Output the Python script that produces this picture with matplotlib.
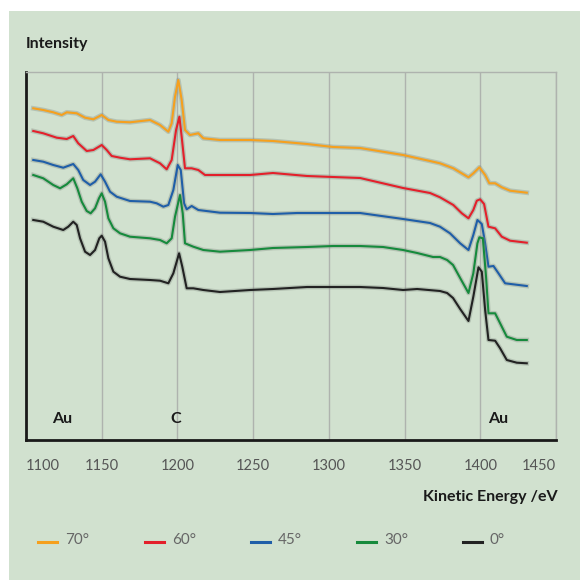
import matplotlib
matplotlib.use("Agg")
import matplotlib.pyplot as plt
from matplotlib.patches import Rectangle
from matplotlib.lines import Line2D
import matplotlib.patheffects as pe

plt.rcParams['font.family'] = ['Lato', 'DejaVu Sans']

# ---- data ----
labels = ["70°", "60°", "45°", "30°", "0°"]
colors = ["#F5A01E", "#E3202B", "#1F5EA8", "#168A3C", "#222222"]

e70 = [1104.8, 1111.4, 1118.0, 1123.6, 1126.9, 1133.5, 1139.0, 1144.5, 1150.0, 1154.4, 1159.9, 1168.7, 1181.9, 1188.5, 1194.0, 1196.2, 1198.4, 1200.6, 1202.8, 1205.0, 1208.3, 1213.8, 1217.1, 1228.1, 1248.0, 1263.1, 1285.6, 1302.8, 1320.6, 1349.0, 1366.8, 1373.4, 1382.2, 1392.2, 1395.4, 1399.4, 1403.2, 1406.0, 1409.8, 1414.2, 1419.7, 1430.7]
i70 = [331.7, 330, 327.7, 325, 327.7, 326.7, 322.3, 320.7, 325, 320, 318.3, 317.7, 320, 315, 308.3, 316.7, 343.3, 360, 340, 310, 305, 306.7, 301.7, 300, 300, 299, 296, 293, 292, 285, 279, 276.7, 271.7, 262.7, 266.7, 272.7, 265, 256.7, 256.7, 252.7, 249.3, 247.3]

e60 = [1104.8, 1111.4, 1120.3, 1126.9, 1131.2, 1134.5, 1140.1, 1144.5, 1150.0, 1153.3, 1156.6, 1162.1, 1168.7, 1181.9, 1188.5, 1192.9, 1196.2, 1199.1, 1201.3, 1202.8, 1205.0, 1209.4, 1213.8, 1218.2, 1228.1, 1248.0, 1263.1, 1285.6, 1302.8, 1320.6, 1349.0, 1366.8, 1373.4, 1382.2, 1387.8, 1392.2, 1395.4, 1397.7, 1399.9, 1402.5, 1405.4, 1409.8, 1414.2, 1419.7, 1430.7]
i60 = [309, 306.7, 302.3, 301, 304, 296.7, 289, 290, 295, 290, 284, 282.3, 280.7, 281.7, 276.7, 270.7, 280, 310, 323.3, 303.3, 271.7, 271.7, 270, 265, 265, 265, 267, 264, 263, 262, 252, 247, 242.7, 235, 226.7, 221.7, 230, 239.3, 240.7, 236, 213.3, 211.7, 203.3, 199.3, 197.3]

e45 = [1104.8, 1111.4, 1118.0, 1124.6, 1131.2, 1134.5, 1137.8, 1142.3, 1145.6, 1149.3, 1152.2, 1155.5, 1159.9, 1168.7, 1181.9, 1186.3, 1190.7, 1194.0, 1197.3, 1200.2, 1202.2, 1204.4, 1206.1, 1209.4, 1213.8, 1228.1, 1248.0, 1263.1, 1279.0, 1302.8, 1320.6, 1349.0, 1366.8, 1373.4, 1380.0, 1386.7, 1392.2, 1395.4, 1398.1, 1401.0, 1403.2, 1405.4, 1408.7, 1412.0, 1416.4, 1430.7]
i45 = [280, 278.3, 275, 272.3, 276, 270, 260, 255, 258.3, 265.7, 258.3, 248.3, 243.3, 239, 238.3, 236.7, 233.3, 235, 250, 275, 270, 236.7, 230.7, 234, 230, 227.3, 227, 226, 227, 227, 227, 221, 217, 213.3, 206.7, 196.7, 190, 205, 220, 216, 196.7, 173.3, 174, 166.7, 156.7, 154]

e30 = [1104.8, 1111.4, 1118.0, 1122.5, 1126.9, 1131.2, 1133.9, 1136.8, 1140.1, 1142.7, 1145.6, 1148.2, 1150.0, 1152.2, 1154.4, 1157.7, 1162.1, 1168.7, 1181.9, 1188.5, 1192.9, 1196.2, 1198.4, 1201.7, 1203.5, 1205.0, 1210.5, 1217.1, 1228.1, 1248.0, 1263.1, 1285.6, 1302.8, 1320.6, 1335.8, 1349.0, 1358.3, 1368.8, 1373.4, 1378.1, 1382.0, 1386.7, 1392.2, 1395.4, 1398.1, 1399.4, 1401.7, 1403.8, 1405.4, 1409.8, 1413.1, 1417.5, 1424.1, 1430.7]
i30 = [265, 261.7, 255, 251.7, 255.7, 261.7, 251.7, 238.3, 229, 226.7, 231.7, 241.7, 246.7, 238.3, 221.7, 211.7, 206.7, 203.3, 201.7, 200, 196.7, 201.7, 223.3, 245, 226.7, 196.7, 193.3, 190, 188.3, 190, 192, 193, 194, 194, 193, 190, 187, 183, 183, 180, 175, 162, 147, 166.7, 196.7, 202.7, 201.7, 163.3, 126.7, 126.7, 116.7, 103.3, 100, 100]

e0 = [1104.8, 1111.4, 1118.0, 1124.6, 1127.9, 1131.2, 1133.5, 1135.7, 1139.0, 1142.3, 1145.6, 1148.4, 1150.0, 1152.2, 1154.4, 1157.7, 1162.1, 1168.7, 1181.9, 1188.5, 1194.0, 1197.3, 1201.1, 1203.2, 1206.1, 1210.5, 1217.1, 1228.1, 1248.0, 1263.1, 1285.6, 1302.8, 1320.6, 1335.8, 1349.0, 1358.3, 1373.4, 1378.1, 1382.0, 1386.7, 1392.2, 1395.4, 1398.8, 1401.0, 1403.2, 1405.4, 1409.8, 1413.1, 1417.5, 1424.1, 1430.7]
i0 = [220, 218.3, 213.3, 210, 213.3, 218.3, 215, 201.7, 188.3, 185, 190, 201.7, 204.3, 198.3, 181.7, 168.3, 163.3, 161, 160, 159.3, 156.7, 166.7, 186.7, 173.3, 151.7, 151.7, 150, 148, 150, 151, 153, 153, 153, 152, 150, 151, 149, 147, 142, 131, 119, 143.3, 172.7, 168.3, 130, 100, 99.3, 91.7, 80, 77.3, 76.7]

series = [(e70, i70), (e60, i60), (e45, i45), (e30, i30), (e0, i0)]

xticks = [1100, 1150, 1200, 1250, 1300, 1350, 1400, 1450]
peak_labels = ["Au", "C", "Au"]
peak_pos = [1124, 1199, 1412]

# ---- figure ----
W = H = 580
fig = plt.figure(figsize=(5.8, 5.8), dpi=100)
fig.patch.set_facecolor("white")
bg = "#D1E1CF"
fig.add_artist(Rectangle((9 / W, 0), 1 - 9 / W, 1 - 11 / H, transform=fig.transFigure,
                         facecolor=bg, edgecolor="none", zorder=0))

ax = fig.add_axes([26 / W, (H - 440) / H, (556 - 26) / W, (440 - 72) / H])
ax.set_facecolor(bg)
ax.set_xlim(1100, 1450)
ax.set_ylim(0, 368)
ax.set_yticks([])
ax.set_xticks(xticks)
ax.set_xticklabels([str(t) for t in xticks], fontsize=10.5, color="#555555")
for i, lab in enumerate(ax.get_xticklabels()):
    if i == 0:
        lab.set_ha("left")
    elif i == len(xticks) - 1:
        lab.set_ha("right")
ax.tick_params(axis="x", length=0, pad=14)
ax.grid(axis="x", color="#AEB3AE", linewidth=1.0, zorder=1)
for s in ["left", "bottom"]:
    ax.spines[s].set_color("#1A1A1A")
    ax.spines[s].set_linewidth(2.0)
for s in ["top", "right"]:
    ax.spines[s].set_color("#AEB3AE")
    ax.spines[s].set_linewidth(1.0)

for (e, i), c in zip(series, colors):
    ax.plot(e, i, color=c, linewidth=1.5, zorder=3, solid_joinstyle="round",
            path_effects=[pe.Stroke(linewidth=3.4, foreground="#7f8a7f", alpha=0.35), pe.Normal()])

for lab, p in zip(peak_labels, peak_pos):
    ax.text(p, 21, lab, ha="center", va="center", fontsize=11.5, fontweight="bold", color="#1A1A1A")

fig.text(26 / W, 1 - 44 / H, "Intensity", ha="left", va="center", fontsize=11.5,
         fontweight="bold", color="#1A1A1A")
fig.text(558 / W, 1 - 497 / H, "Kinetic Energy /eV", ha="right", va="center", fontsize=11.5,
         fontweight="bold", color="#1A1A1A")

# legend
leg_x = [38, 145, 251, 357, 463]
ly = 1 - 542 / H
for x0, c, lab in zip(leg_x, colors, labels):
    fig.add_artist(Line2D([x0 / W, (x0 + 19) / W], [ly, ly], transform=fig.transFigure,
                          color=c, linewidth=2.2))
    fig.text((x0 + 27) / W, ly + 2 / H, lab, ha="left", va="center", fontsize=11,
             color="#666666", fontweight="normal")

fig.savefig("out.png", dpi=100, facecolor=fig.get_facecolor())
